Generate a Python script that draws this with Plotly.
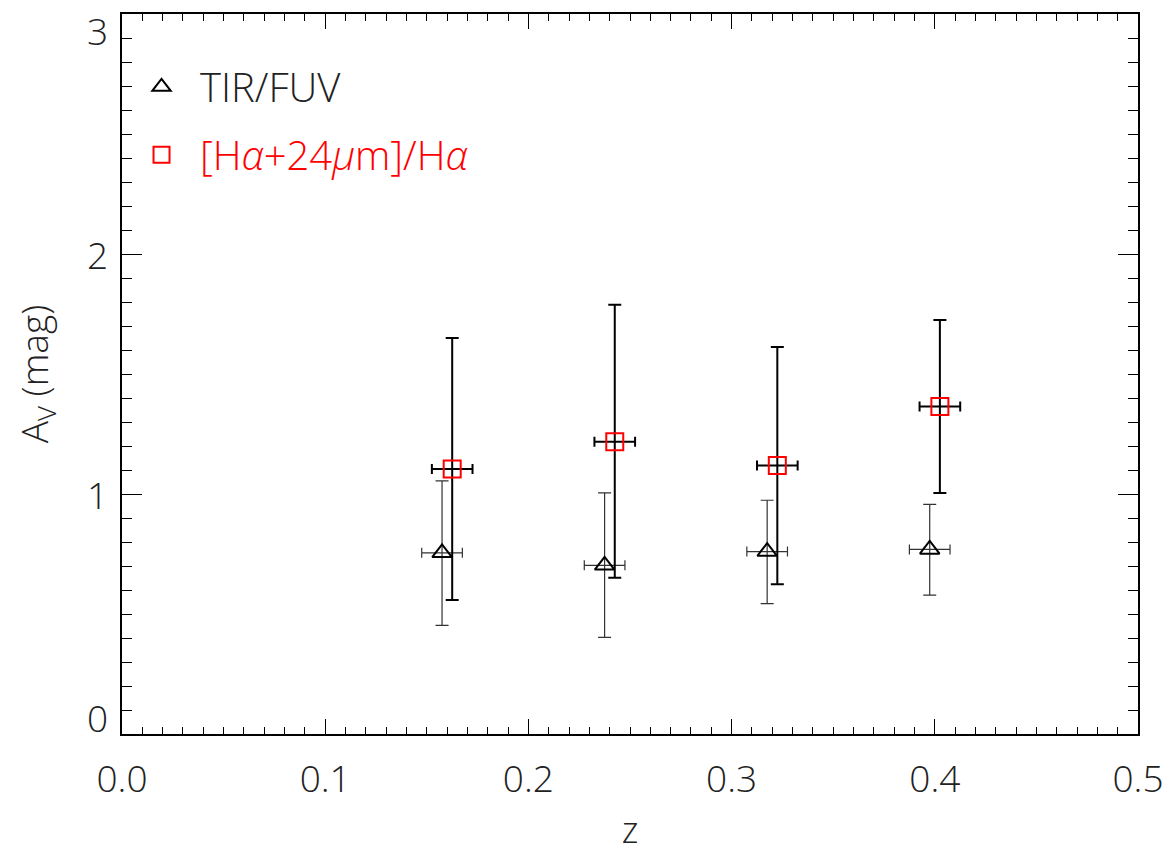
import plotly.graph_objects as go

# TIR/FUV (triangles)
tri_z = [0.1575, 0.2375, 0.3175, 0.3975]
tri_zerr = [0.01, 0.01, 0.01, 0.01]
tri_av = [0.755, 0.703, 0.760, 0.769]
tri_hi = [1.055, 1.005, 0.974, 0.957]
tri_lo = [0.453, 0.403, 0.543, 0.579]

# [Ha+24um]/Ha (squares)
sq_z = [0.1625, 0.2425, 0.3225, 0.4025]
sq_zerr = [0.01, 0.01, 0.01, 0.01]
sq_av = [1.104, 1.218, 1.119, 1.365]
sq_hi = [1.650, 1.789, 1.6125, 1.725]
sq_lo = [0.558, 0.651, 0.624, 1.004]

x_ticks = [0.0, 0.1, 0.2, 0.3, 0.4, 0.5]
x_ticklabels = ["0.0", "0.1", "0.2", "0.3", "0.4", "0.5"]
y_ticks = [0, 1, 2, 3]
y_ticklabels = ["0", "1", "2", "3"]
# IDL pulls the end labels inward; vertical label anchor positions (data units)
y_label_pos = [0.067, 1.0, 2.0, 2.93]

FONT = "Open Sans"
TXT = "#222222"

fig = go.Figure()
fig.add_trace(go.Scatter(
    x=tri_z, y=tri_av, mode="markers", name="TIR/FUV",
    marker=dict(symbol="triangle-up-open", size=17, color="black", line=dict(width=2, color="black")),
    error_x=dict(type="data", array=tri_zerr, color="#333333", thickness=1.2, width=5),
    error_y=dict(type="data", symmetric=False,
                 array=[h - v for h, v in zip(tri_hi, tri_av)],
                 arrayminus=[v - l for v, l in zip(tri_av, tri_lo)],
                 color="#333333", thickness=1.2, width=6.5),
    legendgroup="a",
))
fig.add_trace(go.Scatter(
    x=sq_z, y=sq_av, mode="markers",
    name='<span style="color:red">[H<i>α</i>+24<i>μ</i>m]/H<i>α</i></span>',
    marker=dict(symbol="square-open", size=17, color="red", line=dict(width=2, color="red")),
    error_x=dict(type="data", array=sq_zerr, color="black", thickness=2, width=5),
    error_y=dict(type="data", symmetric=False,
                 array=[h - v for h, v in zip(sq_hi, sq_av)],
                 arrayminus=[v - l for v, l in zip(sq_av, sq_lo)],
                 color="black", thickness=2, width=6.5),
    legendgroup="b",
))

axis_common = dict(
    showline=True, linecolor="black", linewidth=1.5, mirror="ticks",
    ticks="inside", tickcolor="black", tickwidth=1.2,
    showgrid=False, zeroline=False, automargin=False,
)

fig.update_xaxes(
    range=[0, 0.5], tickvals=x_ticks, ticktext=x_ticklabels, ticklen=15,
    tickfont=dict(family=FONT, size=37, color=TXT, weight=300), ticklabelstandoff=12,
    minor=dict(dtick=0.01, ticks="inside", ticklen=7, tickcolor="black", tickwidth=1.2, showgrid=False),
    title=dict(text="z", font=dict(family=FONT, size=36, color=TXT, weight=300), standoff=16),
    **axis_common,
)
fig.update_yaxes(
    range=[0, 3], tickvals=y_ticks, showticklabels=False, ticklen=20,
    minor=dict(dtick=0.1, ticks="inside", ticklen=10, tickcolor="black", tickwidth=1.2, showgrid=False),
    title=dict(text="A<sub>V</sub> (mag)", font=dict(family=FONT, size=37, color=TXT, weight=300), standoff=68),
    **axis_common,
)

for pos, lab in zip(y_label_pos, y_ticklabels):
    fig.add_annotation(x=0, xref="paper", y=pos, yref="y", text=lab, showarrow=False,
                       xanchor="right", yanchor="middle", xshift=-12,
                       font=dict(family=FONT, size=37, color=TXT, weight=300))

fig.update_layout(
    width=1173, height=849,
    margin=dict(l=113.5, r=43, t=6, b=123),
    plot_bgcolor="white", paper_bgcolor="white",
    showlegend=True,
    legend=dict(x=0.001, y=0.944, xanchor="left", yanchor="top",
                font=dict(family=FONT, size=40, color=TXT, weight=300),
                bgcolor="rgba(0,0,0,0)", traceorder="grouped", tracegroupgap=13,
                itemwidth=67),
)

fig.write_html("out.html")
